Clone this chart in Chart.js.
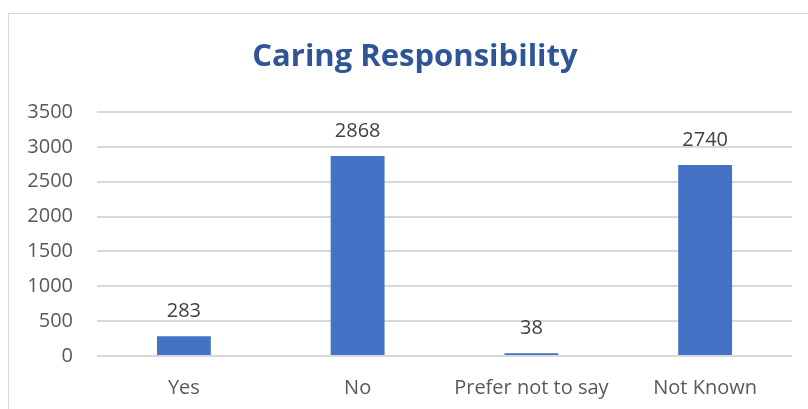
<!DOCTYPE html>
<html>
<head>
<meta charset="utf-8">
<script src="https://cdn.jsdelivr.net/npm/chart.js@4"></script>
<style>
  html, body { margin: 0; padding: 0; background: #fff; overflow: hidden; }
  #frame { position: absolute; left: 8px; top: 13px; width: 900px; height: 500px;
           border: 1px solid #d9d9d9; box-sizing: border-box; }
  #wrap { position: absolute; left: 0; top: 0; width: 808px; height: 409px; }
</style>
</head>
<body>
<div id="frame"></div>
<div id="wrap"><canvas id="c"></canvas></div>
<script>
const TITLE = "Caring Responsibility";
const CATEGORIES = ["Yes", "No", "Prefer not to say", "Not Known"];
const COUNTS = [283, 2868, 38, 2740];
const Y_MAX = 3500, Y_STEP = 500;

// title is centred on the whole chart frame, not on the plot, so drawn by hand
const frameTitle = {
  id: "frameTitle",
  afterDraw(chart) {
    const ctx = chart.ctx;
    ctx.save();
    ctx.font = "bold 31px 'Open Sans'";
    ctx.fillStyle = "#2f5597";
    ctx.textAlign = "center";
    ctx.textBaseline = "middle";
    ctx.fillText(TITLE, 415, 57);
    ctx.restore();
  },
};

// value labels above each bar
const barLabels = {
  id: "barLabels",
  afterDatasetsDraw(chart) {
    const ctx = chart.ctx;
    const meta = chart.getDatasetMeta(0);
    ctx.save();
    ctx.font = "20px 'Open Sans'";
    ctx.fillStyle = "#404040";
    ctx.textAlign = "center";
    ctx.textBaseline = "middle";
    meta.data.forEach((bar, i) => {
      ctx.fillText(String(COUNTS[i]), bar.x, bar.y - 25);
    });
    ctx.restore();
  },
};

new Chart(document.getElementById("c"), {
  type: "bar",
  data: {
    labels: CATEGORIES,
    datasets: [{
      data: COUNTS, backgroundColor: "#4472c4",
      categoryPercentage: 1, barPercentage: 0.31,
    }],
  },
  options: {
    responsive: true, maintainAspectRatio: false, animation: false,
    layout: { padding: { top: 112, right: 16, bottom: 0, left: 0 } },
    plugins: { legend: { display: false }, tooltip: { enabled: false }, title: { display: false } },
    scales: {
      x: {
        afterFit(s) { s.height = 53; },
        grid: { display: false, drawTicks: false }, border: { display: false },
        ticks: { color: "#595959", font: { family: "'Open Sans'", size: 20 }, padding: 20 },
      },
      y: {
        min: 0, max: Y_MAX,
        afterFit(s) { s.width = 97; },
        grid: { color: "#d9d9d9", lineWidth: 2, drawTicks: false }, border: { display: false },
        ticks: {
          stepSize: Y_STEP, color: "#595959", font: { family: "'Open Sans'", size: 20 }, padding: 24,
          callback: (v) => String(v),
        },
      },
    },
  },
  plugins: [barLabels, frameTitle],
});
</script>
</body>
</html>
